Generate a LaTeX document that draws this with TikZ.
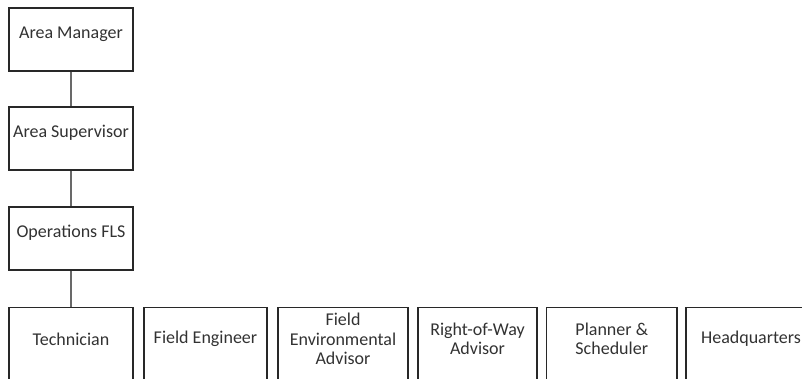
\documentclass[tikz,border=0pt]{standalone}
\usepackage{fontspec}
\setmainfont{Carlito}
\usetikzlibrary{positioning}
\definecolor{boxline}{RGB}{40,40,40}
\definecolor{linkgray}{RGB}{105,105,105}
\definecolor{txtgray}{RGB}{50,50,50}

\begin{document}
\begin{tikzpicture}[
        x=1pt, y=-1pt,
        box/.style={draw=boxline, line width=1.3pt, minimum width=124pt, minimum height=63pt, inner sep=0pt},
        lbl/.style={font=\fontsize{18}{19.5}\selectfont, text=txtgray, align=center, inner sep=0pt},
        upper/.style={box, label={[lbl, yshift=5.5pt]center:#1}},
        lower/.style={box, minimum height=88pt, label={[lbl, yshift=12.5pt]center:#1}},
        link/.style={draw=linkgray, line width=1.8pt}
      ]
      \useasboundingbox (0,0) rectangle (802,378);
      \clip (0,0) rectangle (802,378);

      % chain of command down the left side
      \node[upper={Area Manager}] (mgr) at (71,39.5) {};
      \node[upper={Area Supervisor}] (sup) at (71,138.5) {};
      \node[upper={Operations FLS}] (fls) at (71,238.5) {};

      % bottom row, runs off the page
      \node[lower={Technician}] (tech) at (71,351.5) {};
      \node[lower={Field Engineer}, minimum width=123pt] (feng) at (205.5,351.5) {};
      \node[lower={Field\\Environmental\\Advisor}, minimum width=130pt] (fenv) at (343,351.5) {};
      \node[lower={Right-of-Way\\Advisor}, minimum width=119pt] (row) at (477.5,351.5) {};
      \node[lower={Planner \&\\Scheduler}, minimum width=130.5pt] (plan) at (611.75,351.5) {};
      \node[lower={Headquarters}, minimum width=130pt] (hq) at (751,351.5) {};

      \draw[link] (mgr) -- (sup);
      \draw[link] (sup) -- (fls);
      \draw[link] (fls) -- (tech);
    \end{tikzpicture}
\end{document}
